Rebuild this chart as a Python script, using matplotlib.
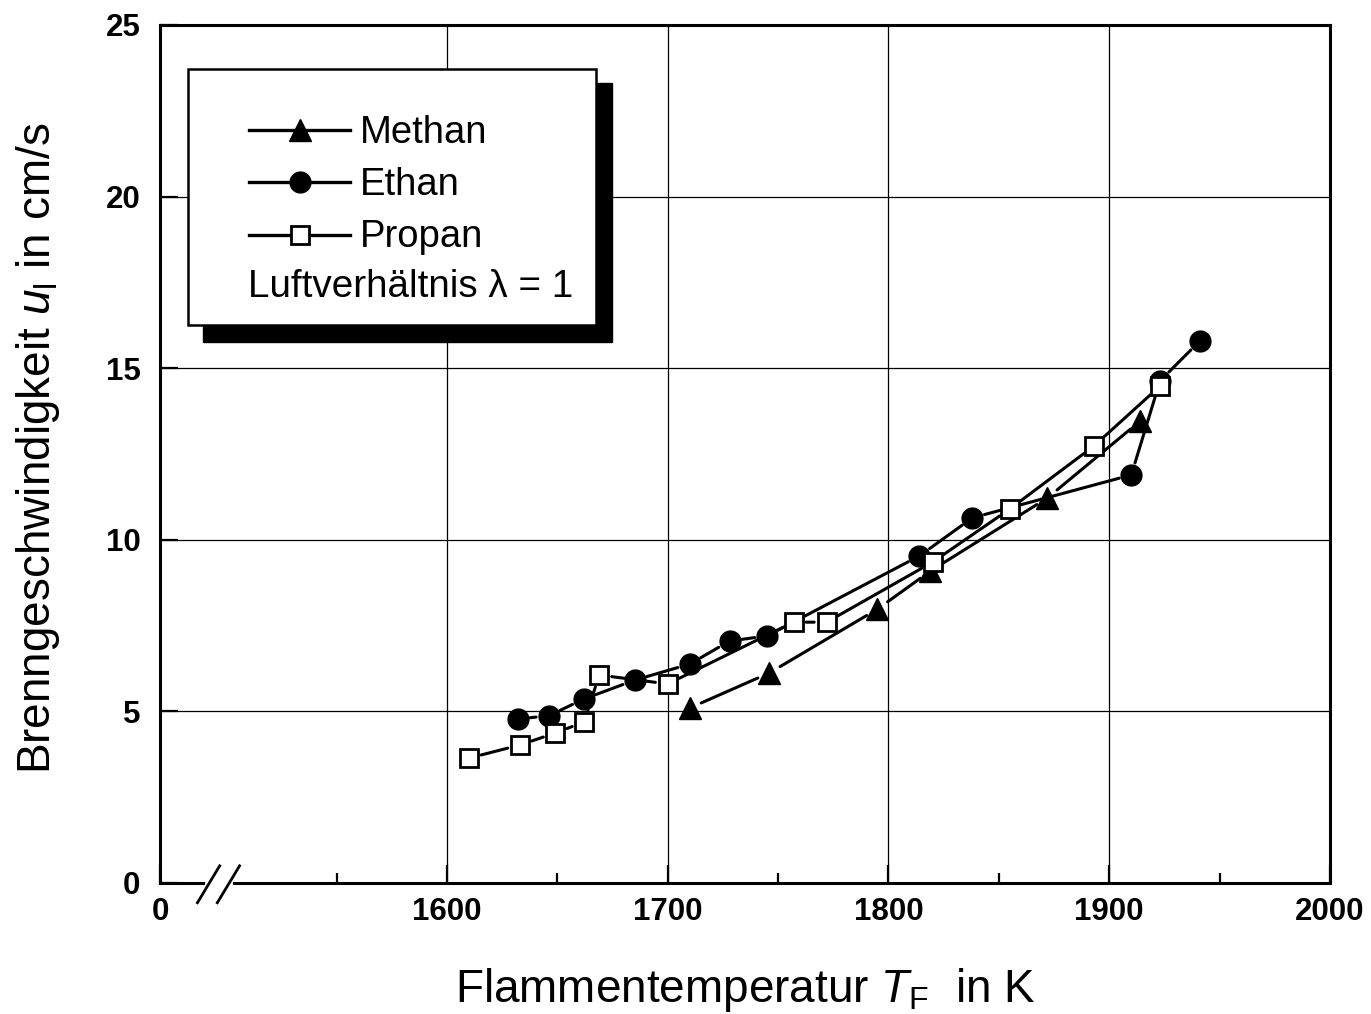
import matplotlib
matplotlib.use("Agg")
import matplotlib.pyplot as plt
from matplotlib.patches import Rectangle
from matplotlib.lines import Line2D

plt.rcParams['font.family'] = ['Liberation Sans', 'DejaVu Sans']
plt.rcParams['mathtext.fontset'] = 'custom'
plt.rcParams['mathtext.rm'] = 'Liberation Sans'
plt.rcParams['mathtext.it'] = 'Liberation Sans:italic'

# data (T in K, u in cm/s)
methan_T = [1710, 1746, 1795, 1819, 1872, 1914]
methan_u = [5.10, 6.12, 7.98, 9.09, 11.22, 13.46]

ethan_T = [1632, 1646, 1662, 1685, 1710, 1728, 1745, 1814, 1838, 1910, 1923, 1941]
ethan_u = [4.78, 4.87, 5.36, 5.91, 6.38, 7.05, 7.20, 9.53, 10.64, 11.89, 14.63, 15.79]

propan_T = [1610, 1633, 1649, 1662, 1669, 1700, 1757, 1772, 1820, 1855, 1893, 1923]
propan_u = [3.64, 4.02, 4.37, 4.69, 6.06, 5.80, 7.60, 7.60, 9.35, 10.90, 12.73, 14.48]

x_ticks = [1470, 1600, 1700, 1800, 1900, 2000]
x_labels = ["0", "1600", "1700", "1800", "1900", "2000"]
x_minor = [1550, 1650, 1750, 1850, 1950]
y_ticks = [0, 5, 10, 15, 20, 25]

series = [
    ("Methan", methan_T, methan_u, dict(marker="^", ms=16, mfc="black", mec="black", mew=1)),
    ("Ethan", ethan_T, ethan_u, dict(marker="o", ms=15, mfc="black", mec="black", mew=1)),
    ("Propan", propan_T, propan_u, dict(marker="s", ms=12.5, mfc="white", mec="black", mew=2)),
]

fig = plt.figure(figsize=(13.71, 10.14), dpi=100)
ax = fig.add_axes([160 / 1371, 131 / 1014, 1170 / 1371, 858 / 1014])

ax.set_xlim(1470, 2000)
ax.set_ylim(0, 25)
ax.set_xticks(x_ticks)
ax.set_xticklabels(x_labels)
ax.set_xticks(x_minor, minor=True)
ax.set_yticks(y_ticks)
for lab in ax.get_xticklabels() + ax.get_yticklabels():
    lab.set_fontweight("bold")

ax.grid(True, which="major", color="black", lw=0.9)
ax.set_axisbelow(True)
ax.tick_params(which="major", direction="in", length=13, width=1.6,
               labelsize=22.5, top=False, right=False)
ax.tick_params(axis="x", which="major", pad=10)
ax.tick_params(axis="y", which="major", pad=14)
ax.tick_params(which="minor", direction="in", length=7, width=1.6)
for s in ax.spines.values():
    s.set_linewidth(2.2)

# connecting segments with small gaps around markers
for name, T, u, style in series:
    for i in range(len(T) - 1):
        ax.annotate("", xy=(T[i + 1], u[i + 1]), xytext=(T[i], u[i]),
                    arrowprops=dict(arrowstyle="-", lw=2.2, color="black",
                                    shrinkA=9, shrinkB=9), zorder=3)
    ax.plot(T, u, linestyle="none", zorder=4, clip_on=False, **style)

# axis break marks
for dx in (0.0, 0.017):
    ax.plot([0.032 + dx, 0.051 + dx], [-0.023, 0.020], transform=ax.transAxes,
            color="black", lw=2.0, clip_on=False, zorder=6)
ax.plot([0.040, 0.060], [0, 0], transform=ax.transAxes, color="white",
        lw=3.5, clip_on=False, zorder=5)

# legend box with shadow
ax.add_patch(Rectangle((43 / 1170, (883 - 342) / 858), 409 / 1170, 259 / 858,
                       transform=ax.transAxes, facecolor="black", edgecolor="black",
                       zorder=7))
ax.add_patch(Rectangle((28 / 1170, (883 - 325) / 858), 408 / 1170, 256 / 858,
                       transform=ax.transAxes, facecolor="white", edgecolor="black",
                       lw=1.8, zorder=8))
row_y = [130, 182, 235]
base_y = [143, 195, 247]
for (name, T, u, style), ym, yb in zip(series, row_y, base_y):
    yy = (883 - ym) / 858
    ax.add_line(Line2D([89 / 1170, 190 / 1170], [yy, yy], transform=ax.transAxes,
                       color="black", lw=2.4, zorder=9))
    ax.add_line(Line2D([139.5 / 1170], [yy], transform=ax.transAxes, color="black",
                       linestyle="none", zorder=10, **style))
    ax.text(200 / 1170, (883 - yb) / 858, name, transform=ax.transAxes,
            fontsize=27.5, va="baseline", ha="left", zorder=10)
ax.text(88 / 1170, (883 - 297) / 858, "Luftverhältnis λ = 1", transform=ax.transAxes,
        fontsize=27.8, va="baseline", ha="left", zorder=10)

# axis labels
ax.text(0.5, (883 - 1002) / 858, r"Flammentemperatur $\mathit{T}_{\mathrm{F}}$  in K",
        transform=ax.transAxes, fontsize=33, ha="center", va="baseline")
ax.text((50 - 160) / 1170, (883 - 448) / 858,
        r"Brenngeschwindigkeit $\mathit{u}_{\mathrm{l}}$ in cm/s",
        transform=ax.transAxes, fontsize=33, ha="center", va="baseline",
        rotation=90, rotation_mode="anchor")

fig.savefig("out.png", dpi=100, facecolor="white")
